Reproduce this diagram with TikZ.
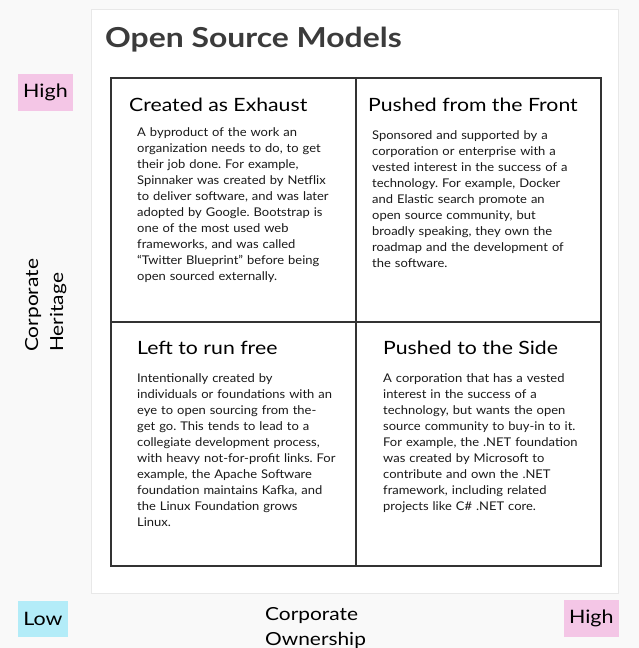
\documentclass[tikz,border=0pt]{standalone}
\usepackage{fontspec}
\setmainfont{Lato}[FakeStretch=1.08]
\newfontfamily\widefont{Lato}[FakeStretch=1.16]
\usetikzlibrary{positioning}
\frenchspacing

\definecolor{pagebg}{HTML}{F9F9F9}
\definecolor{panelline}{HTML}{E8E8E8}
\definecolor{gridline}{HTML}{333333}
\definecolor{titlegray}{HTML}{3B3B3B}
\definecolor{highpink}{HTML}{F4C6E6}
\definecolor{lowblue}{HTML}{B3ECF8}

\begin{document}
\begin{tikzpicture}[x=1pt,y=-1pt,
  quad/.style={draw=gridline, line width=1.2pt, rectangle, inner sep=0pt, outer sep=0pt,
    minimum width=245pt, minimum height=244pt},
  quadtitle/.style={anchor=base west, inner sep=0pt, font=\widefont\fontsize{18.3}{22}\selectfont},
  quadtext/.style={anchor=base west, inner sep=0pt, text width=230pt, align=left,
    text=black!90, font=\fontsize{12}{16}\selectfont},
  axisbox/.style={fill=#1, inner sep=0pt, font=\widefont\fontsize{18.5}{22}\selectfont},
  axislabel/.style={anchor=base west, inner sep=0pt, text width=120pt, align=left,
    font=\widefont\fontsize{18}{25}\selectfont}]

% page and panel
\useasboundingbox[fill=pagebg] (0,0) rectangle (639,648);
\draw[fill=white, draw=panelline] (91.5,9.5) rectangle (618.5,593.5);

\node (title) [anchor=base west, inner sep=0pt, text=titlegray,
  font=\widefont\fontsize{27.5}{32}\selectfont\bfseries] at (105,47) {Open Source Models};

% 4 quadrants
\node (q_tl) [quad, anchor=north west] at (111,78) {};
\node (q_tr) [quad, right=0pt of q_tl] {};
\node (q_bl) [quad, below=0pt of q_tl] {};
\node (q_br) [quad, right=0pt of q_bl] {};

% top left
\node (t_tl) [quadtitle] at (129,111) {Created as Exhaust};
\node (b_tl) [quadtext] at (137,136) {A byproduct of the work an\\
organization needs to do, to get\\
their job done. For example,\\
Spinnaker was created by Netflix\\
to deliver software, and was later\\
adopted by Google. Bootstrap is\\
one of the most used web\\
frameworks, and was called\\
“Twitter Blueprint” before being\\
open sourced externally.};

% top right
\node (t_tr) [quadtitle] at (368,111) {Pushed from the Front};
\node (b_tr) [quadtext] at (372,139) {Sponsored and supported by a\\
corporation or enterprise with a\\
vested interest in the success of a\\
technology. For example, Docker\\
and Elastic search promote an\\
open source community, but\\
broadly speaking, they own the\\
roadmap and the development of\\
the software.};

% bottom left
\node (t_bl) [quadtitle] at (137,354) {Left to run free};
\node (b_bl) [quadtext] at (137,382) {Intentionally created by\\
individuals or foundations with an\\
eye to open sourcing from the-\\
get go. This tends to lead to a\\
collegiate development process,\\
with heavy not-for-profit links. For\\
example, the Apache Software\\
foundation maintains Kafka, and\\
the Linux Foundation grows\\
Linux.};

% bottom right
\node (t_br) [quadtitle] at (383,354) {Pushed to the Side};
\node (b_br) [quadtext] at (383,382) {A corporation that has a vested\\
interest in the success of a\\
technology, but wants the open\\
source community to buy-in to it.\\
For example, the .NET foundation\\
was created by Microsoft to\\
contribute and own the .NET\\
framework, including related\\
projects like C\# .NET core.};

% axes
\node (y_high) [axisbox=highpink, minimum width=55pt, minimum height=37pt] at (45.5,92.3) {High};
\node (x_low) [axisbox=lowblue, minimum width=50pt, minimum height=36.5pt] at (43,618.8) {Low};
\node (x_high) [axisbox=highpink, minimum width=55pt, minimum height=37pt] at (591.3,618.3) {High};
\node (y_label) [axislabel, rotate=90] at (38,352) {Corporate\\Heritage};
\node (x_label) [axislabel] at (265,620) {Corporate\\Ownership};
\end{tikzpicture}
\end{document}
